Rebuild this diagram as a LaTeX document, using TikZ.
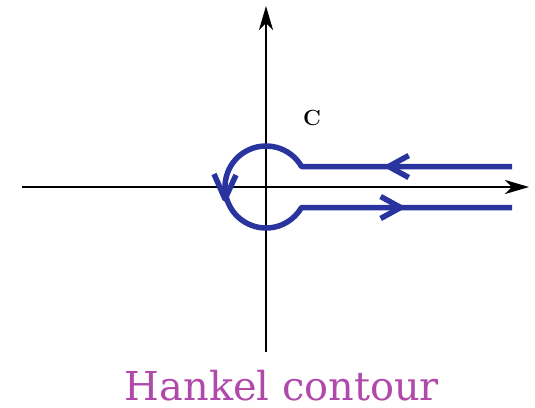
\documentclass[tikz,border=0pt]{standalone}
\usepackage{fontspec}
\newfontfamily\captionfont{DejaVu Serif}
\usetikzlibrary{arrows.meta,decorations.markings,calc}
\definecolor{hkblue}{RGB}{42,52,158}
\definecolor{hkmagenta}{RGB}{176,74,170}
\begin{document}
\begin{tikzpicture}[
    x=1bp, y=1bp,
    axis/.style={draw=black, line width=2bp, -{Stealth[length=24bp, width=14bp, inset=7bp]}},
    contour/.style={draw=hkblue, line width=5.5bp, line join=round},
    barb/.tip={Straight Barb[length=20bp, width=22bp, line width=5.5bp]},
    lbl/.style={font=\fontsize{22}{24}\selectfont\bfseries},
    caption/.style={font=\captionfont\fontsize{40}{44}\selectfont, text=hkmagenta,
                    anchor=base, inner sep=0pt, text depth=0pt}
]
\useasboundingbox (0,0) rectangle (535,407);

% axes
\coordinate (O)  at (266,220);
\coordinate (xL) at (22,220);
\coordinate (xR) at (529,220);
\coordinate (yB) at (266,55);
\coordinate (yT) at (266,401);
\draw[axis] (xL) -- (xR);
\draw[axis] (yB) -- (yT);

% keyhole contour
\coordinate (in)  at (512,240.5);
\coordinate (out) at (512,199.5);
\draw[contour, postaction={decorate}, decoration={markings,
        mark=at position 129bp with {\arrow[hkblue]{barb}},
        mark=at position 530bp with {\arrow[hkblue]{barb}}}]
    (in) -- ($(O)+(30:41)$) arc[start angle=30, end angle=330, radius=41] -- (out);

% arrowhead on the loop
\coordinate (tipC) at (225,208);
\draw[contour] ($(tipC)+(-11,25)$) -- (tipC) -- ($(tipC)+(11,24)$);

\node[lbl] (c) at (312,289.5) {C};
\node[caption] (title) at (282,7) {Hankel contour};

\end{tikzpicture}
\end{document}
